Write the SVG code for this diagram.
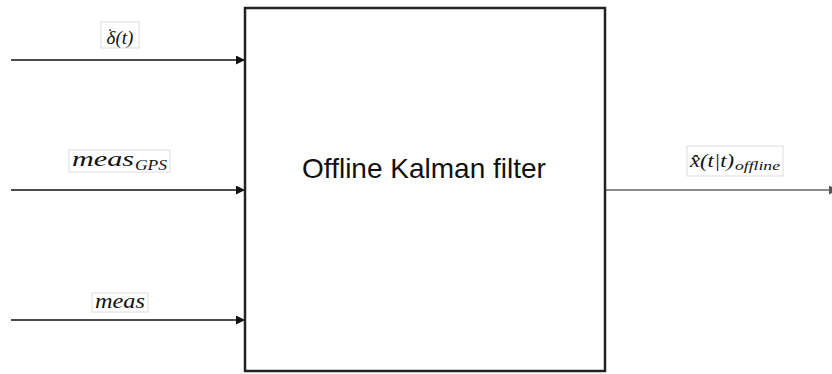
<svg xmlns="http://www.w3.org/2000/svg" width="832" height="374" viewBox="0 0 832 374">
<style>
.lbl{fill:#fff;stroke:#ddd;stroke-width:1}
.m{font-family:"Liberation Serif","DejaVu Serif",serif;font-style:italic;fill:#111}
.c{stroke:#111;stroke-width:1.5;fill:none}
</style>
<defs>
<marker id="ah" viewBox="0 0 10 10" refX="10" refY="5" markerWidth="10" markerHeight="9" markerUnits="userSpaceOnUse" orient="auto"><path d="M0,0L10,5L0,10z" fill="#111"/></marker>
<marker id="ahg" viewBox="0 0 10 10" refX="10" refY="5" markerWidth="10" markerHeight="9" markerUnits="userSpaceOnUse" orient="auto"><path d="M0,0L10,5L0,10z" fill="#555"/></marker>
</defs>
<g id="connectors">
<line class="c" x1="11" y1="60" x2="245" y2="60" marker-end="url(#ah)"/>
<line class="c" x1="11" y1="190" x2="245" y2="190" marker-end="url(#ah)"/>
<line class="c" x1="11" y1="320" x2="245" y2="320" marker-end="url(#ah)"/>
<line x1="605" y1="190" x2="838" y2="190" stroke="#666" stroke-width="1.5" marker-end="url(#ahg)"/>
</g>
<g id="filter">
<rect x="245" y="8" width="360" height="363" fill="#fff" stroke="#222" stroke-width="2.5"/>
<text x="424" y="178" text-anchor="middle" font-family="Liberation Sans, Arial, sans-serif" font-size="28" fill="#111">Offline Kalman filter</text>
</g>
<g id="label-delta">
<rect class="lbl" x="101" y="22" width="38" height="26"/>
<text class="m" x="120" y="44" text-anchor="middle" font-size="19"><tspan x="110" y="31" font-style="normal" font-size="14">.</tspan><tspan x="120" y="44" text-anchor="middle">δ(t)</tspan></text>
</g>
<g id="label-measgps">
<rect class="lbl" x="69" y="150" width="101" height="22"/>
<text class="m" x="72" y="166" font-size="21" textLength="62" lengthAdjust="spacingAndGlyphs">meas</text>
<text class="m" x="135" y="170" font-size="15" textLength="32" lengthAdjust="spacingAndGlyphs">GPS</text>
</g>
<g id="label-meas">
<rect class="lbl" x="92" y="293" width="56" height="19"/>
<text class="m" x="120" y="308" text-anchor="middle" font-size="21" textLength="50" lengthAdjust="spacingAndGlyphs">meas</text>
</g>
<g id="label-xhat">
<rect class="lbl" x="687" y="146" width="96" height="30"/>
<text class="m" x="690" y="167" font-size="19" textLength="44" lengthAdjust="spacingAndGlyphs">x̂(t|t)</text>
<text class="m" x="735" y="170" font-size="12" textLength="45" lengthAdjust="spacingAndGlyphs">offline</text>
</g>
</svg>
